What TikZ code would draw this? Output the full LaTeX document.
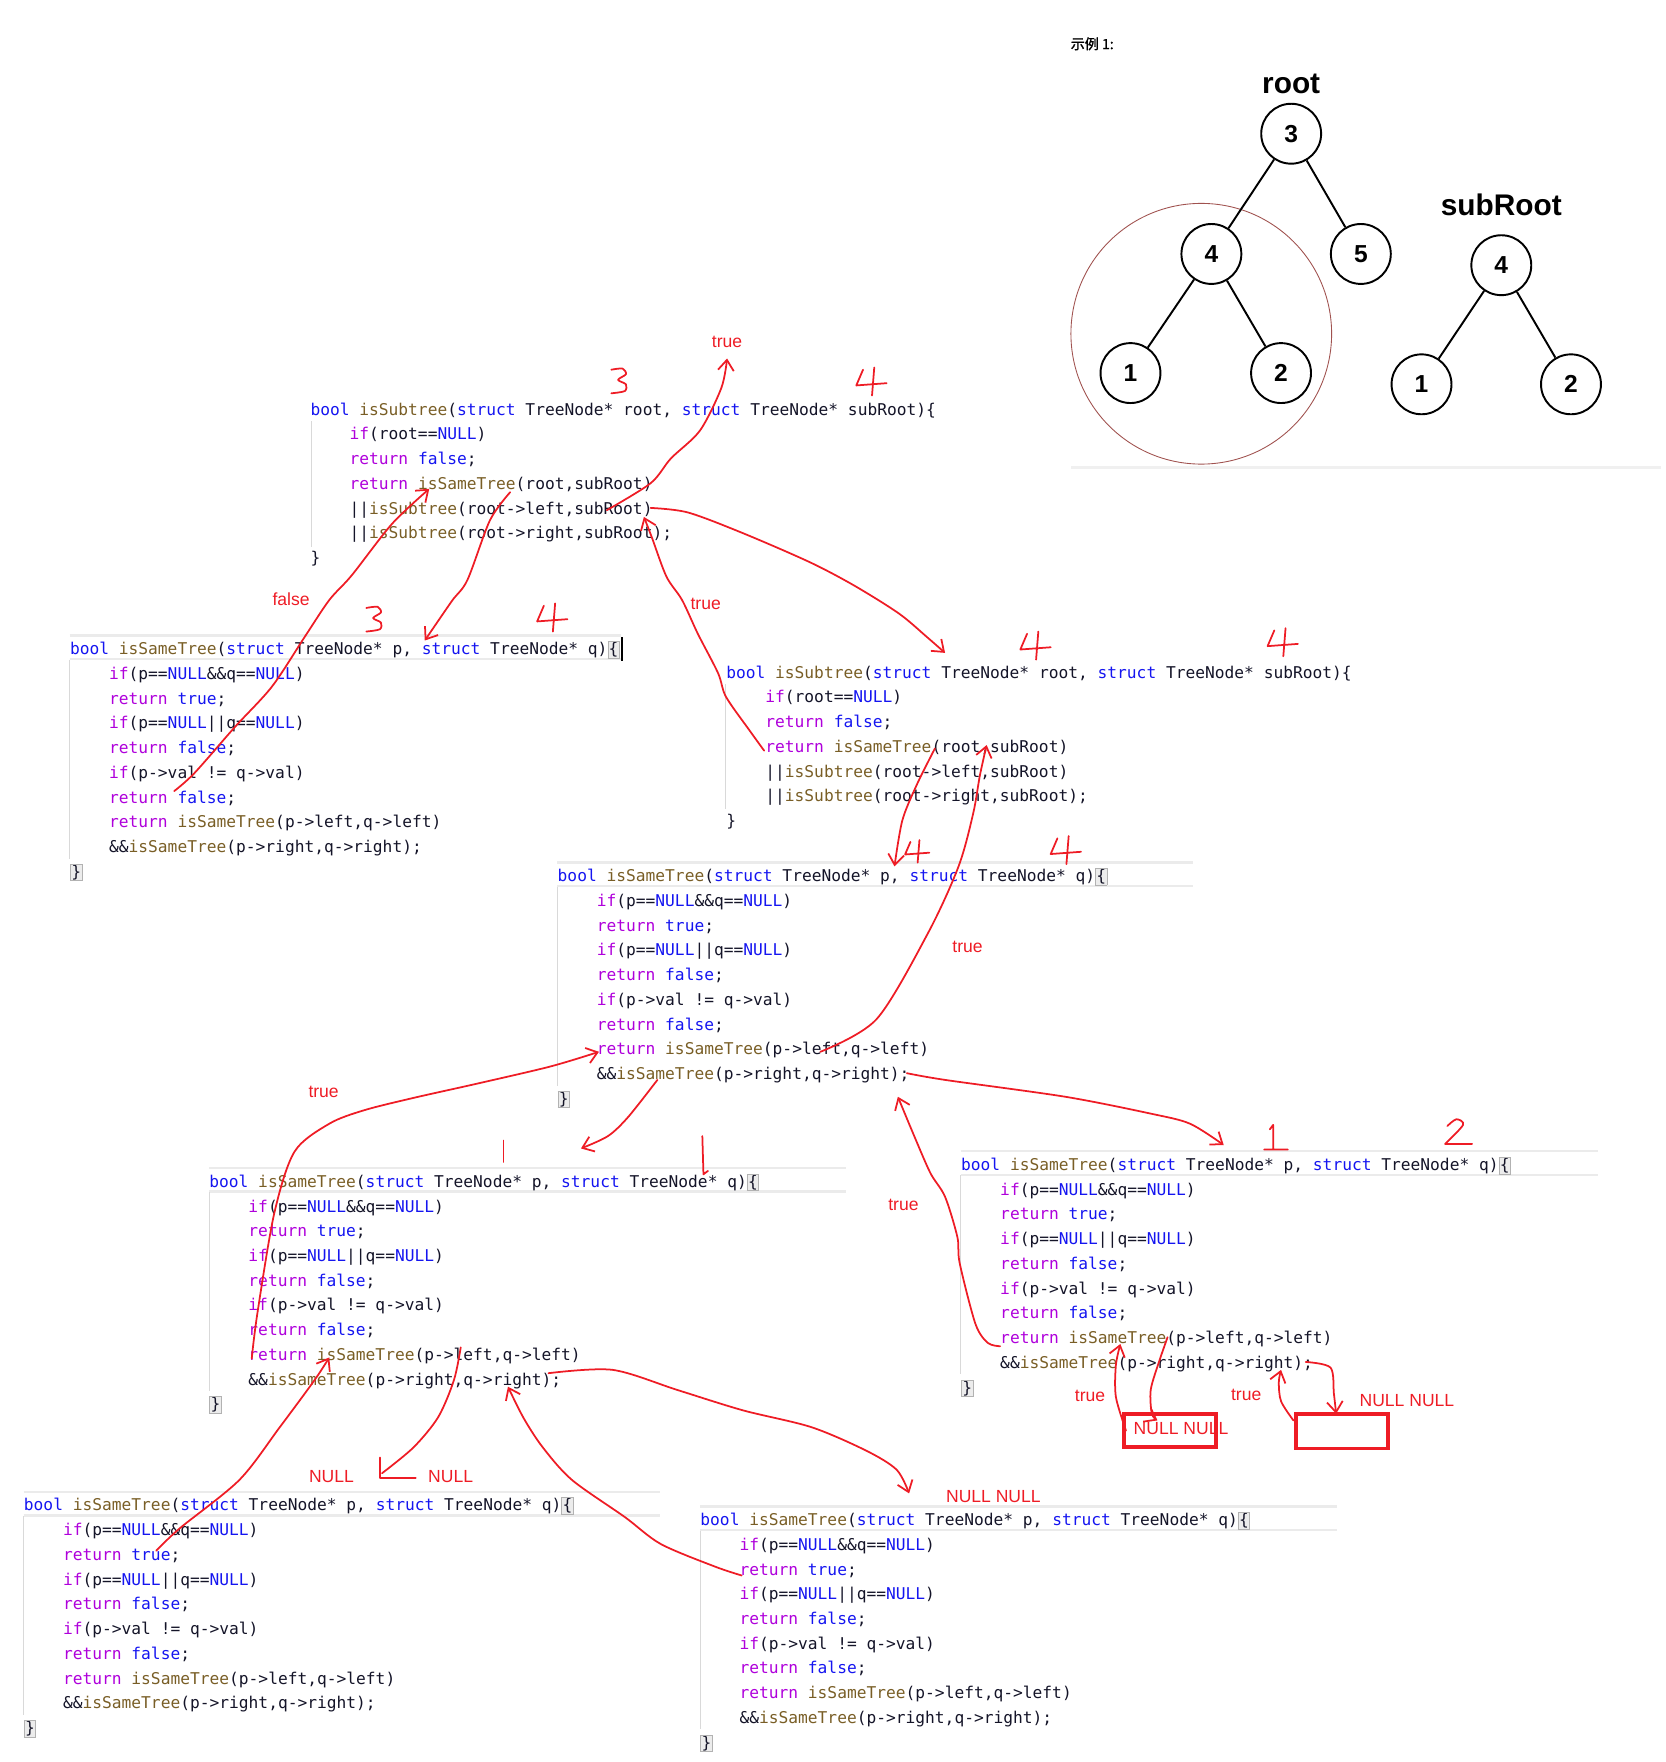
\documentclass[tikz,border=0pt]{standalone}
\usepackage{fontspec}
\setmainfont{Liberation Sans}
\newfontfamily\codefont{DejaVu Sans Mono}[WordSpace={1,0,0}]
\newfontfamily\cjkfont{Noto Sans CJK SC}[FakeBold=1.5]
\usepackage{xcolor}
\usetikzlibrary{arrows.meta}

\definecolor{kwblue}{HTML}{1515F0}
\definecolor{ctlpurple}{HTML}{AF00DB}
\definecolor{fnbrown}{HTML}{795E26}
\definecolor{codeink}{HTML}{141428}
\definecolor{penred}{HTML}{EE1C25}
\definecolor{bandgray}{HTML}{EBEBEB}
\definecolor{ringbrown}{HTML}{A0524F}

\newcommand\kw[1]{\textcolor{kwblue}{#1}}
\newcommand\ctl[1]{\textcolor{ctlpurple}{#1}}
\newcommand\fn[1]{\textcolor{fnbrown}{#1}}
\newcommand\ind{\phantom{0000}}
\newcommand\brk[1]{{\setlength\fboxsep{0.3pt}\setlength\fboxrule{0.4pt}\fcolorbox{gray!60}{gray!15}{#1}}}

\newcommand\sametreecode{%
\kw{bool} \fn{isSameTree}(\kw{struct} TreeNode* p, \kw{struct} TreeNode* q)\brk{\{}\\
\ind\ctl{if}(p==\kw{NULL}\&\&q==\kw{NULL})\\
\ind\ctl{return} \kw{true};\\
\ind\ctl{if}(p==\kw{NULL}||q==\kw{NULL})\\
\ind\ctl{return} \kw{false};\\
\ind\ctl{if}(p->val != q->val)\\
\ind\ctl{return} \kw{false};\\
\ind\ctl{return} \fn{isSameTree}(p->left,q->left)\\
\ind\&\&\fn{isSameTree}(p->right,q->right);\\
\brk{\}}}

\newcommand\subtreecode{%
\kw{bool} \fn{isSubtree}(\kw{struct} TreeNode* root, \kw{struct} TreeNode* subRoot)\{\\
\ind\ctl{if}(root==\kw{NULL})\\
\ind\ctl{return} \kw{false};\\
\ind\ctl{return} \fn{isSameTree}(root,subRoot)\\
\ind||\fn{isSubtree}(root->left,subRoot)\\
\ind||\fn{isSubtree}(root->right,subRoot);\\
\}}

\tikzset{
  ink/.style={draw=penred, line width=1pt, line cap=round, line join=round},
  three mark/.pic={\draw[ink] plot[smooth] coordinates {(-7,-10) (3,-11) (6,-6) (-1,-1) (6,3) (5,9) (-7,11)};},
  four mark/.pic={\draw[ink] (-6,-11) -- (-12,3) -- (15,1) (4,-13) -- (2,12);},
  one mark/.pic={\draw[ink] (-5,-8) -- (-2,-12) -- (-2,10) (-10,10) -- (11,10);},
  two mark/.pic={\draw[ink] plot[smooth] coordinates {(-9,-6) (-1,-12) (5,-7) (-11,10)} -- (13,10);},
}

\begin{document}
\begin{tikzpicture}[x=0.0225cm, y=-0.0225cm,
  >={Straight Barb[length=6pt,width=9pt]},
  code/.style={font=\codefont\fontsize{9.25}{14.1}\selectfont, text=codeink, align=left, inner sep=0pt, anchor=base west},
  band/.style={draw=bandgray, line width=1.4pt},
  guide/.style={draw=gray!30, line width=0.5pt},
  tnode/.style={circle, draw, line width=1.1pt, fill=white, minimum size=1.2cm, inner sep=0pt, font=\fontsize{14}{14}\selectfont\bfseries},
  tedge/.style={line width=1.1pt},
  tlabel/.style={font=\fontsize{17}{17}\selectfont\bfseries, inner sep=0pt},
  note/.style={text=penred, font=\fontsize{10}{12}\selectfont, inner sep=0pt},
  nullbox/.style={draw=penred, line width=2.2pt},
]
\useasboundingbox (0,0) rectangle (1482,1568);

% example tree
\node[font=\cjkfont\fontsize{8}{8}\selectfont] (title) at (972,39) {示例 1:};
\draw[ringbrown, line width=0.5pt] (1069,297) circle (116);
\node[tlabel] (rootlbl) at (1149,75) {root};
\node[tnode] (a3) at (1149,119) {3};
\node[tnode] (a4) at (1078,226) {4};
\node[tnode] (a5) at (1211,226) {5};
\node[tnode] (a1) at (1006,332) {1};
\node[tnode] (a2) at (1140,332) {2};
\draw[tedge] (a3) -- (a4);
\draw[tedge] (a3) -- (a5);
\draw[tedge] (a4) -- (a1);
\draw[tedge] (a4) -- (a2);
\node[tlabel] (sublbl) at (1336,182) {subRoot};
\node[tnode] (b4) at (1336,236) {4};
\node[tnode] (b1) at (1265,342) {1};
\node[tnode] (b2) at (1398,342) {2};
\draw[tedge] (b4) -- (b1);
\draw[tedge] (b4) -- (b2);
\draw[line width=1.9pt, gray!12] (953,416) -- (1478,416);

% editor bands and guides
\foreach \x/\y/\w in {62/576/491, 496/778/566, 186/1050/567, 855/1035/567, 21/1338/566, 623/1351/567} {
  \draw[band] (\x,\y-10.5) -- ++(\w,0);
  \draw[band] (\x,\y+10.5) -- ++(\w,0);
  \draw[guide] (\x,\y+11) -- (\x,\y+188);
}
\draw[guide] (277,375) -- (277,487);
\draw[guide] (646,609) -- (646,720);
\draw[line width=0.8pt] (553.5,567) -- (553.5,588);

% code (anchored on the last line)
\node[code] (subA) at (276,501.6) {\subtreecode};
\node[code] (sameB) at (62,780.7) {\sametreecode};
\node[code] (subC) at (646,735.6) {\subtreecode};
\node[code] (sameD) at (496,982.7) {\sametreecode};
\node[code] (sameE) at (186,1254.7) {\sametreecode};
\node[code] (sameF) at (855,1239.7) {\sametreecode};
\node[code] (sameG) at (21,1542.7) {\sametreecode};
\node[code] (sameH) at (623,1555.7) {\sametreecode};

% hand marks
\pic at (551,339) {three mark};
\pic at (774,340) {four mark};
\pic at (333,551) {three mark};
\pic at (490,550) {four mark};
\pic at (920,575) {four mark};
\pic at (1140,572) {four mark};
\pic[scale=0.8] at (815,758) {four mark};
\pic at (947,757) {four mark};
\pic at (1135,1013) {one mark};
\pic at (1297,1008) {two mark};
\draw[ink] (448,1015) -- (448,1034);
\draw[ink] (625,1011) -- (626,1045) -- (630,1042);

% calls and returns
\draw[ink,->] plot[smooth] coordinates {(540,454) (579,430) (597,408) (623,383) (642,345) (647,319)};
\node[note] (t1) at (647,304) {true};
\draw[ink,->] plot[smooth] coordinates {(155,704) (173,688) (209,647) (242,611) (271,567) (293,534) (313,512) (349,466) (382,435)};
\node[note] (f1) at (259,533) {false};
\draw[ink,->] plot[smooth] coordinates {(454,438) (436,463) (416,516) (402,535) (378,570)};
\draw[ink,->] plot[smooth] coordinates {(579,452) (612,456) (660,474) (720,500) (760,521) (800,546) (825,567) (841,581)};
\draw[ink,->] plot[smooth] coordinates {(680,668) (667,650) (646,620) (639,599) (621,564) (607,534) (593,513) (580,478) (573,460)};
\node[note] (t2) at (628,537) {true};
\draw[ink,->] plot[smooth] coordinates {(832,666) (816,698) (803,730) (796,771)};
\draw[ink,->] plot[smooth] coordinates {(730,936) (780,907) (826,830) (853,771) (866,724) (872,690) (878,663)};
\node[note] (t3) at (861,843) {true};
\draw[ink,->] plot[smooth] coordinates {(585,961) (559,994) (541,1011) (517,1022)};
\draw[ink,->] plot[smooth] coordinates {(224,1209) (229,1169) (244,1080) (262,1025) (293,1000) (324,988) (368,977) (426,964) (490,949) (533,936)};
\node[note] (t4) at (288,972) {true};
\draw[ink,->] plot[smooth] coordinates {(139,1380) (160,1360) (213,1317) (249,1270) (280,1228) (293,1208)};
\draw[ink] plot[smooth] coordinates {(410,1199) (404,1228) (390,1261) (368,1288) (340,1311)};
\draw[ink] (338,1297) -- (338,1315) -- (370,1315);
\node[note] (n1) at (295,1314) {NULL};
\node[note] (n2) at (401,1314) {NULL};
\draw[ink,->] plot[smooth] coordinates {(660,1402) (636,1394) (588,1374) (556,1350) (509,1317) (483,1288) (466,1262) (452,1234)};
\draw[ink,->] plot[smooth] coordinates {(488,1222) (545,1219) (603,1237) (661,1255) (722,1270) (771,1291) (798,1308) (809,1329)};
\node[note] (n3) at (884,1332) {NULL NULL};
\draw[ink,->] plot[smooth] coordinates {(807,955) (841,961) (948,976) (1024,991) (1059,1000) (1089,1019)};
\draw[ink,->] plot[smooth] coordinates {(890,1198) (879,1195) (868,1178) (854,1124) (852,1101) (841,1065) (828,1044) (814,1012) (799,976)};
\node[note] (t5) at (804,1072) {true};

% leaves of the last call
\draw[nullbox] (1000,1258) rectangle (1082,1288);
\draw[nullbox] (1153,1258) rectangle (1235,1289);
\node[note] (n4) at (1051,1271) {NULL NULL};
\draw[ink,->] plot[smooth] coordinates {(1002,1273) (993,1243) (993,1215) (997,1196)};
\draw[ink,->] plot[smooth] coordinates {(1039,1190) (1031,1213) (1024,1237) (1025,1258) (1030,1264)};
\draw[ink,->] plot[smooth] coordinates {(1151,1264) (1140,1247) (1138,1230) (1140,1219)};
\draw[ink,->] plot[smooth] coordinates {(1162,1212) (1184,1217) (1187,1240) (1189,1258)};
\node[note] (t6) at (970,1242) {true};
\node[note] (t7) at (1109,1241) {true};
\node[note] (n5) at (1252,1246) {NULL NULL};
\end{tikzpicture}
\end{document}
